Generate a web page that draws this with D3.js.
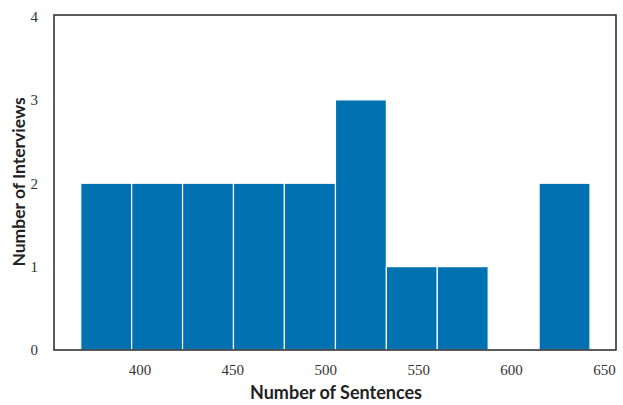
<!DOCTYPE html>
<html><head><meta charset="utf-8">
<script src="https://cdn.jsdelivr.net/npm/d3@7"></script>
<style>body{margin:0;background:#fff;}svg{display:block;}</style>
</head><body>
<svg id="c" width="623" height="405"></svg>
<script>
const binEdges = [368.4, 395.8, 423.2, 450.6, 478.0, 505.5, 532.9, 560.3, 587.7, 615.1, 642.5];
const counts = [2, 2, 2, 2, 2, 3, 1, 1, 0, 2];
const xTicks = [400, 450, 500, 550, 600, 650];
const yTicks = [0, 1, 2, 3, 4];
const xTitle = "Number of Sentences";
const yTitle = "Number of Interviews";

const svg = d3.select("#c");
const L = 54, R = 616, T = 15, B = 350;
const x = d3.scaleLinear().domain([354, 656.5]).range([L, R]);
const y = d3.scaleLinear().domain([0, 4]).range([B, 16.5]);

const bins = counts.map((c, i) => ({x0: binEdges[i], x1: binEdges[i+1], c}));
svg.append("g").selectAll("rect").data(bins.filter(d => d.c > 0)).join("rect")
  .attr("x", d => x(d.x0))
  .attr("width", d => x(d.x1) - x(d.x0))
  .attr("y", d => y(d.c))
  .attr("height", d => y(0) - y(d.c))
  .attr("fill", "#0072B2")
  .attr("stroke", "#ffffff")
  .attr("stroke-width", 1.2);

svg.append("rect").attr("x", L).attr("y", T).attr("width", R - L).attr("height", B - T)
  .attr("fill", "none").attr("stroke", "#333").attr("stroke-width", 1.6);

const serif = "'Liberation Serif', 'DejaVu Serif', serif";
const sans = "Lato, 'Open Sans', sans-serif";

const xa = svg.append("g").attr("transform", `translate(0,${B})`)
  .call(d3.axisBottom(x).tickValues(xTicks).tickSize(0).tickPadding(14));
xa.select(".domain").remove();
xa.selectAll("text").attr("font-family", serif).attr("font-size", 15).attr("fill", "#333");

const ya = svg.append("g").attr("transform", `translate(${L},0)`)
  .call(d3.axisLeft(y).tickValues(yTicks).tickSize(0).tickPadding(16).tickFormat(d3.format("d")));
ya.select(".domain").remove();
ya.selectAll("text").attr("font-family", serif).attr("font-size", 15).attr("fill", "#333");

svg.append("text").attr("x", 336).attr("y", 399).attr("text-anchor", "middle")
  .attr("font-family", sans).attr("font-weight", "bold").attr("font-size", 18).attr("fill", "#222")
  .text(xTitle);
svg.append("text").attr("transform", `translate(25,182) rotate(-90)`).attr("text-anchor", "middle")
  .attr("font-family", sans).attr("font-weight", "bold").attr("font-size", 17.5).attr("fill", "#222")
  .text(yTitle);
</script>
</body></html>
